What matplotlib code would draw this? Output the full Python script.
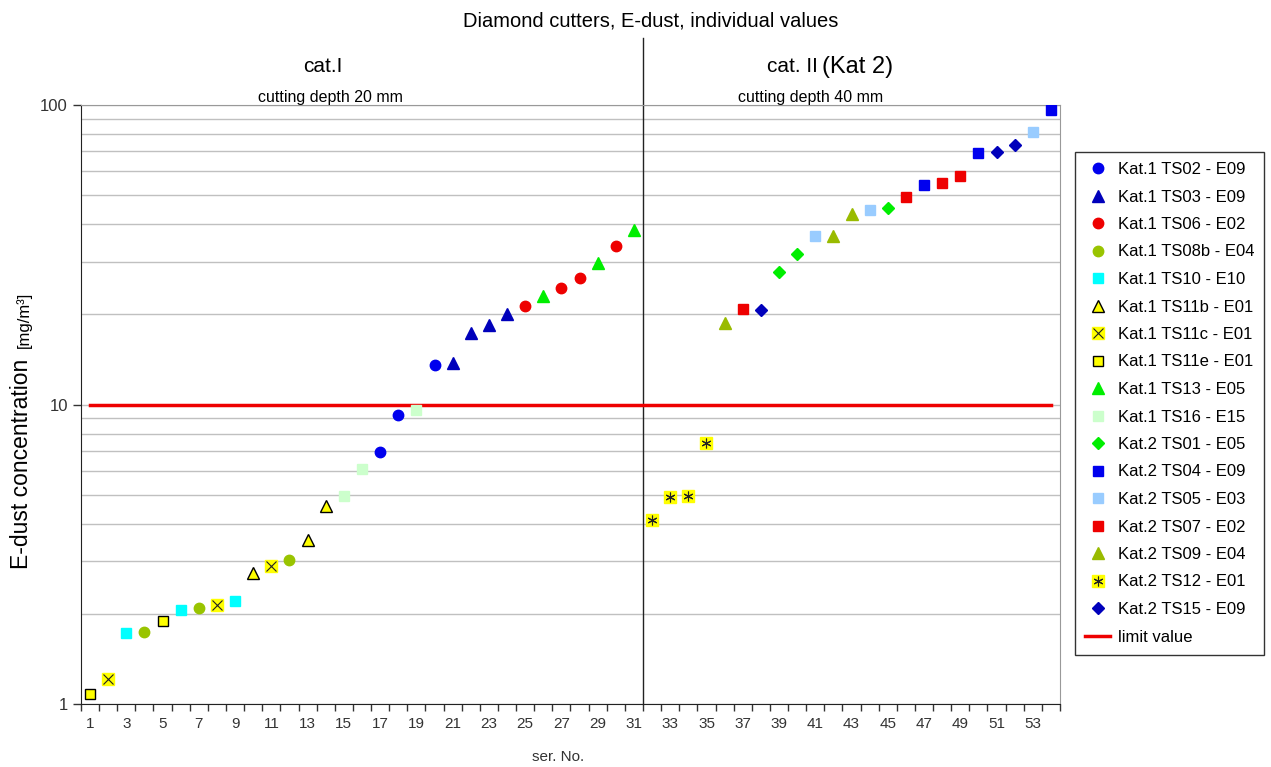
import numpy as np
import matplotlib
matplotlib.use('Agg')
import matplotlib.pyplot as plt
from matplotlib.lines import Line2D

plt.rcParams['font.family'] = ['Liberation Sans', 'DejaVu Sans']

# series number of each measurement and its E-dust concentration (mg/m3)
ser_no = list(range(1, 55))
conc = [1.08, 1.21, 1.72, 1.74, 1.89, 2.06, 2.09, 2.14, 2.21, 2.74,
        2.89, 3.03, 3.53, 4.58, 4.95, 6.07, 6.96, 9.25, 9.58, 13.6,
        13.8, 17.3, 18.4, 20.0, 21.3, 23.1, 24.4, 26.4, 29.7, 33.7,
        38.2, 4.12, 4.90, 4.96, 7.42, 18.7, 20.8, 20.7, 27.6, 31.8,
        36.6, 36.5, 43.2, 44.6, 45.2, 49.2, 54.2, 54.8, 57.9, 69.3,
        69.5, 73.5, 81.5, 96.2]
# which series each point belongs to (index into series_labels)
group = [7, 6, 4, 3, 7, 4, 3, 6, 4, 5,
         6, 3, 5, 5, 9, 9, 0, 0, 9, 0,
         1, 1, 1, 1, 2, 8, 2, 2, 8, 2,
         8, 15, 15, 15, 15, 14, 13, 16, 10, 10,
         12, 14, 14, 12, 10, 13, 11, 13, 13, 11,
         16, 16, 12, 11]

series_labels = ['Kat.1 TS02 - E09', 'Kat.1 TS03 - E09', 'Kat.1 TS06 - E02',
                 'Kat.1 TS08b - E04', 'Kat.1 TS10 - E10', 'Kat.1 TS11b - E01',
                 'Kat.1 TS11c - E01', 'Kat.1 TS11e - E01', 'Kat.1 TS13 - E05',
                 'Kat.1 TS16 - E15', 'Kat.2 TS01 - E05', 'Kat.2 TS04 - E09',
                 'Kat.2 TS05 - E03', 'Kat.2 TS07 - E02', 'Kat.2 TS09 - E04',
                 'Kat.2 TS12 - E01', 'Kat.2 TS15 - E09']
limit_value = 10
limit_range = [1, 54]

# marker styles: (marker, face colour, edge colour, size, overlay marker)
styles = [
    ('o', '#0000EE', '#0000EE', 7.5, None),
    ('^', '#0000BB', '#0000BB', 8.5, None),
    ('o', '#EE0000', '#EE0000', 7.5, None),
    ('o', '#99C400', '#99C400', 7.5, None),
    ('s', '#00FFFF', '#00FFFF', 7.5, None),
    ('^', '#FFFF00', '#000000', 8, None),
    ('s', '#FFFF00', '#FFFF00', 8.5, 'x'),
    ('s', '#FFFF00', '#000000', 7, None),
    ('^', '#00EE00', '#00EE00', 8.5, None),
    ('s', '#CCFFCC', '#CCFFCC', 7.5, None),
    ('D', '#00EE00', '#00EE00', 6.5, None),
    ('s', '#0000EE', '#0000EE', 7.5, None),
    ('s', '#99CCFF', '#99CCFF', 7.5, None),
    ('s', '#EE0000', '#EE0000', 7.5, None),
    ('^', '#99BB00', '#99BB00', 8.5, None),
    ('s', '#FFFF00', '#FFFF00', 8.5, (6, 2, 0)),
    ('D', '#0000BB', '#0000BB', 6.5, None),
]

fig = plt.figure(figsize=(12.71, 7.67), dpi=100)
ax = fig.add_axes([0.0637, 0.0821, 0.7703, 0.7810])

ser_no = np.array(ser_no)
conc = np.array(conc)
group = np.array(group)

handles = []
for i, lab in enumerate(series_labels):
    mk, fc, ec, ms, over = styles[i]
    sel = group == i
    ax.plot(ser_no[sel], conc[sel], linestyle='none', marker=mk, ms=ms,
            mfc=fc, mec=ec, mew=1.0, zorder=3)
    h = Line2D([], [], linestyle='none', marker=mk, ms=ms, mfc=fc, mec=ec, mew=1.0)
    if over is not None:
        ax.plot(ser_no[sel], conc[sel], linestyle='none', marker=over, ms=7,
                mec='#222222', mew=0.8, zorder=4)
        h = (h, Line2D([], [], linestyle='none', marker=over, ms=7,
                       mec='#222222', mew=0.8))
    handles.append(h)

lim_line, = ax.plot(limit_range, [limit_value, limit_value], color='#EE0000', lw=2.5, zorder=2)
handles.append(lim_line)

ax.set_yscale('log')
ax.set_ylim(1, 100)
ax.set_xlim(0.5, 54.5)

ax.set_xticks(range(1, 55, 2))
ax.set_xticklabels([str(v) for v in range(1, 55, 2)], fontsize=11, color='#333333')
ax.set_xticks(np.arange(0.5, 55, 1), minor=True)
ax.tick_params(axis='x', which='major', length=0, pad=9)
ax.tick_params(axis='x', which='minor', length=5, width=1, color='#333333')

ax.set_yticks([1, 10, 100])
ax.set_yticklabels(['1', '10', '100'], fontsize=12, color='#333333')
ax.yaxis.set_minor_formatter(matplotlib.ticker.NullFormatter())
ax.tick_params(axis='y', which='major', length=6, width=1, color='#333333')
ax.tick_params(axis='y', which='minor', length=0)

ax.grid(True, which='both', axis='y', color='#C0C0C0', lw=1)
ax.set_axisbelow(True)
for s in ['left', 'bottom']:
    ax.spines[s].set_color('#222222')
for s in ['top', 'right']:
    ax.spines[s].set_color('#999999')

# separator between the two categories
ax.axvline(31.5, ymin=0, ymax=1.112, color='#222222', lw=1, clip_on=False, zorder=1)

fig.text(0.512, 0.973, 'Diamond cutters, E-dust, individual values', fontsize=14.5,
         ha='center', va='center')
fig.text(0.254, 0.913, 'cat.I', fontsize=15, ha='center', va='center')
fig.text(818 / 1271, 0.913, 'cat. II', fontsize=15, ha='right', va='center')
fig.text(822 / 1271, 0.913, '(Kat 2)', fontsize=17, ha='left', va='center')
fig.text(0.260, 0.873, 'cutting depth 20 mm', fontsize=11.5, ha='center', va='center')
fig.text(0.638, 0.873, 'cutting depth 40 mm', fontsize=11.5, ha='center', va='center')
fig.text(0.439, 0.013, 'ser. No.', fontsize=11, ha='center', va='center', color='#333333')

fig.text(0.017, 1 - 464 / 767, 'E-dust concentration', fontsize=16.5, rotation=90,
         ha='center', va='center')
fig.text(0.019, 1 - 320 / 767, '[mg/m³]', fontsize=12, rotation=90,
         ha='center', va='center')

leg = fig.legend(handles, series_labels + ['limit value'], loc='upper left',
                 bbox_to_anchor=(1075 / 1271, 1 - 152 / 767), fontsize=12,
                 frameon=True, fancybox=False, edgecolor='#000000',
                 labelspacing=0.75, handlelength=1.5, handletextpad=0.45,
                 borderpad=0.6, borderaxespad=0)
leg.get_frame().set_linewidth(1)

fig.savefig('out.png', dpi=100)
